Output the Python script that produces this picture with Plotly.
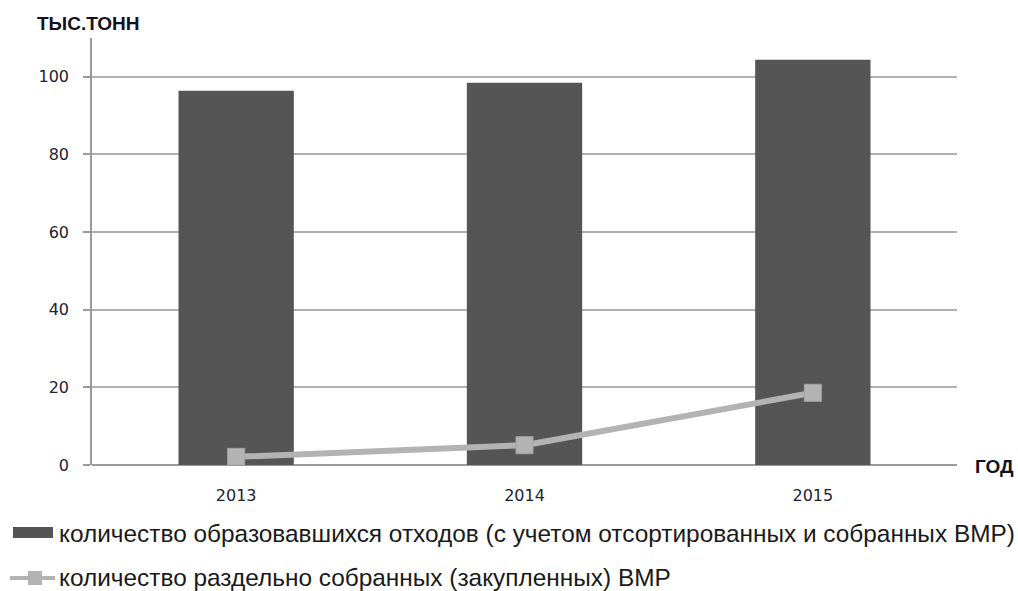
import plotly.graph_objects as go

# Data
years = ["2013", "2014", "2015"]
waste_total = [96.4, 98.5, 104.4]      # количество образовавшихся отходов, тыс. тонн
recyclables = [2.1, 5.1, 18.6]         # количество раздельно собранных ВМР, тыс. тонн
y_ticks = [0, 20, 40, 60, 80, 100]

bar_name = "количество образовавшихся отходов (с учетом отсортированных и собранных ВМР)"
line_name = "количество раздельно собранных (закупленных) ВМР"

W, H = 1018, 591
L, R, T, B = 92, 61, 38, 126
PW, PH = W - L - R, H - T - B

def px(x):
    """Horizontal pixel position -> paper coordinate."""
    return (x - L) / PW

def py(y):
    """Vertical pixel position (from top) -> paper coordinate."""
    return (H - B - y) / PH

BAR_COLOR = "#555555"
LINE_COLOR = "#b3b3b3"
AXIS_COLOR = "#9a9a9a"
TICK_FONT = dict(family="DejaVu Sans, Verdana, sans-serif", size=16, color="#222233")
LEGEND_FONT = dict(family="Liberation Sans, Arial, sans-serif", size=24.4, color="#1a1a1a")
TITLE_FONT = dict(family="Liberation Sans, Arial, sans-serif", size=19, color="#111122")

fig = go.Figure()
fig.add_trace(go.Bar(x=years, y=waste_total, name=bar_name,
                     marker=dict(color=BAR_COLOR, line=dict(width=0)),
                     showlegend=False))
fig.add_trace(go.Scatter(x=years, y=recyclables, name=line_name, mode="lines+markers",
                         line=dict(color=LINE_COLOR, width=6),
                         marker=dict(symbol="square", size=17, color=LINE_COLOR,
                                     line=dict(color="#a5a5a5", width=1)),
                         showlegend=False))

fig.update_layout(
    width=W, height=H,
    margin=dict(l=L, r=R, t=T, b=B),
    paper_bgcolor="white", plot_bgcolor="white",
    bargap=0.6,
    xaxis=dict(showgrid=False, showline=False, ticks="", zeroline=False,
               tickfont=TICK_FONT, ticklabelstandoff=19),
    yaxis=dict(range=[0, 110], tickvals=y_ticks, showgrid=True, gridcolor="#b0b0b0",
               gridwidth=1.5, showline=True, linecolor=AXIS_COLOR, linewidth=1.5,
               ticks="outside", ticklen=7, tickcolor=AXIS_COLOR, tickwidth=1.5,
               zeroline=True, zerolinecolor=AXIS_COLOR, zerolinewidth=1.5,
               tickfont=TICK_FONT, ticklabelstandoff=11),
)

# Axis titles
fig.add_annotation(x=px(35), y=py(24), xref="paper", yref="paper",
                   text="<b>ТЫС.ТОНН</b>", showarrow=False, xanchor="left", yanchor="middle",
                   font=TITLE_FONT)
fig.add_annotation(x=px(973), y=py(466), xref="paper", yref="paper",
                   text="<b>ГОД</b>", showarrow=False, xanchor="left", yanchor="middle",
                   font=TITLE_FONT)

# Legend drawn below the plot
fig.add_shape(type="rect", xref="paper", yref="paper",
              x0=px(13), x1=px(53), y0=py(538), y1=py(527),
              fillcolor=BAR_COLOR, line=dict(width=0))
fig.add_annotation(x=px(57), y=py(533), xref="paper", yref="paper", text=bar_name,
                   showarrow=False, xanchor="left", yanchor="middle", font=LEGEND_FONT)
fig.add_shape(type="line", xref="paper", yref="paper",
              x0=px(10), x1=px(55), y0=py(578), y1=py(578),
              line=dict(color=LINE_COLOR, width=4))
fig.add_shape(type="rect", xref="paper", yref="paper",
              x0=px(28), x1=px(42), y0=py(585), y1=py(571),
              fillcolor=LINE_COLOR, line=dict(width=0))
fig.add_annotation(x=px(57), y=py(577), xref="paper", yref="paper", text=line_name,
                   showarrow=False, xanchor="left", yanchor="middle", font=LEGEND_FONT)

fig.write_html("out.html")
